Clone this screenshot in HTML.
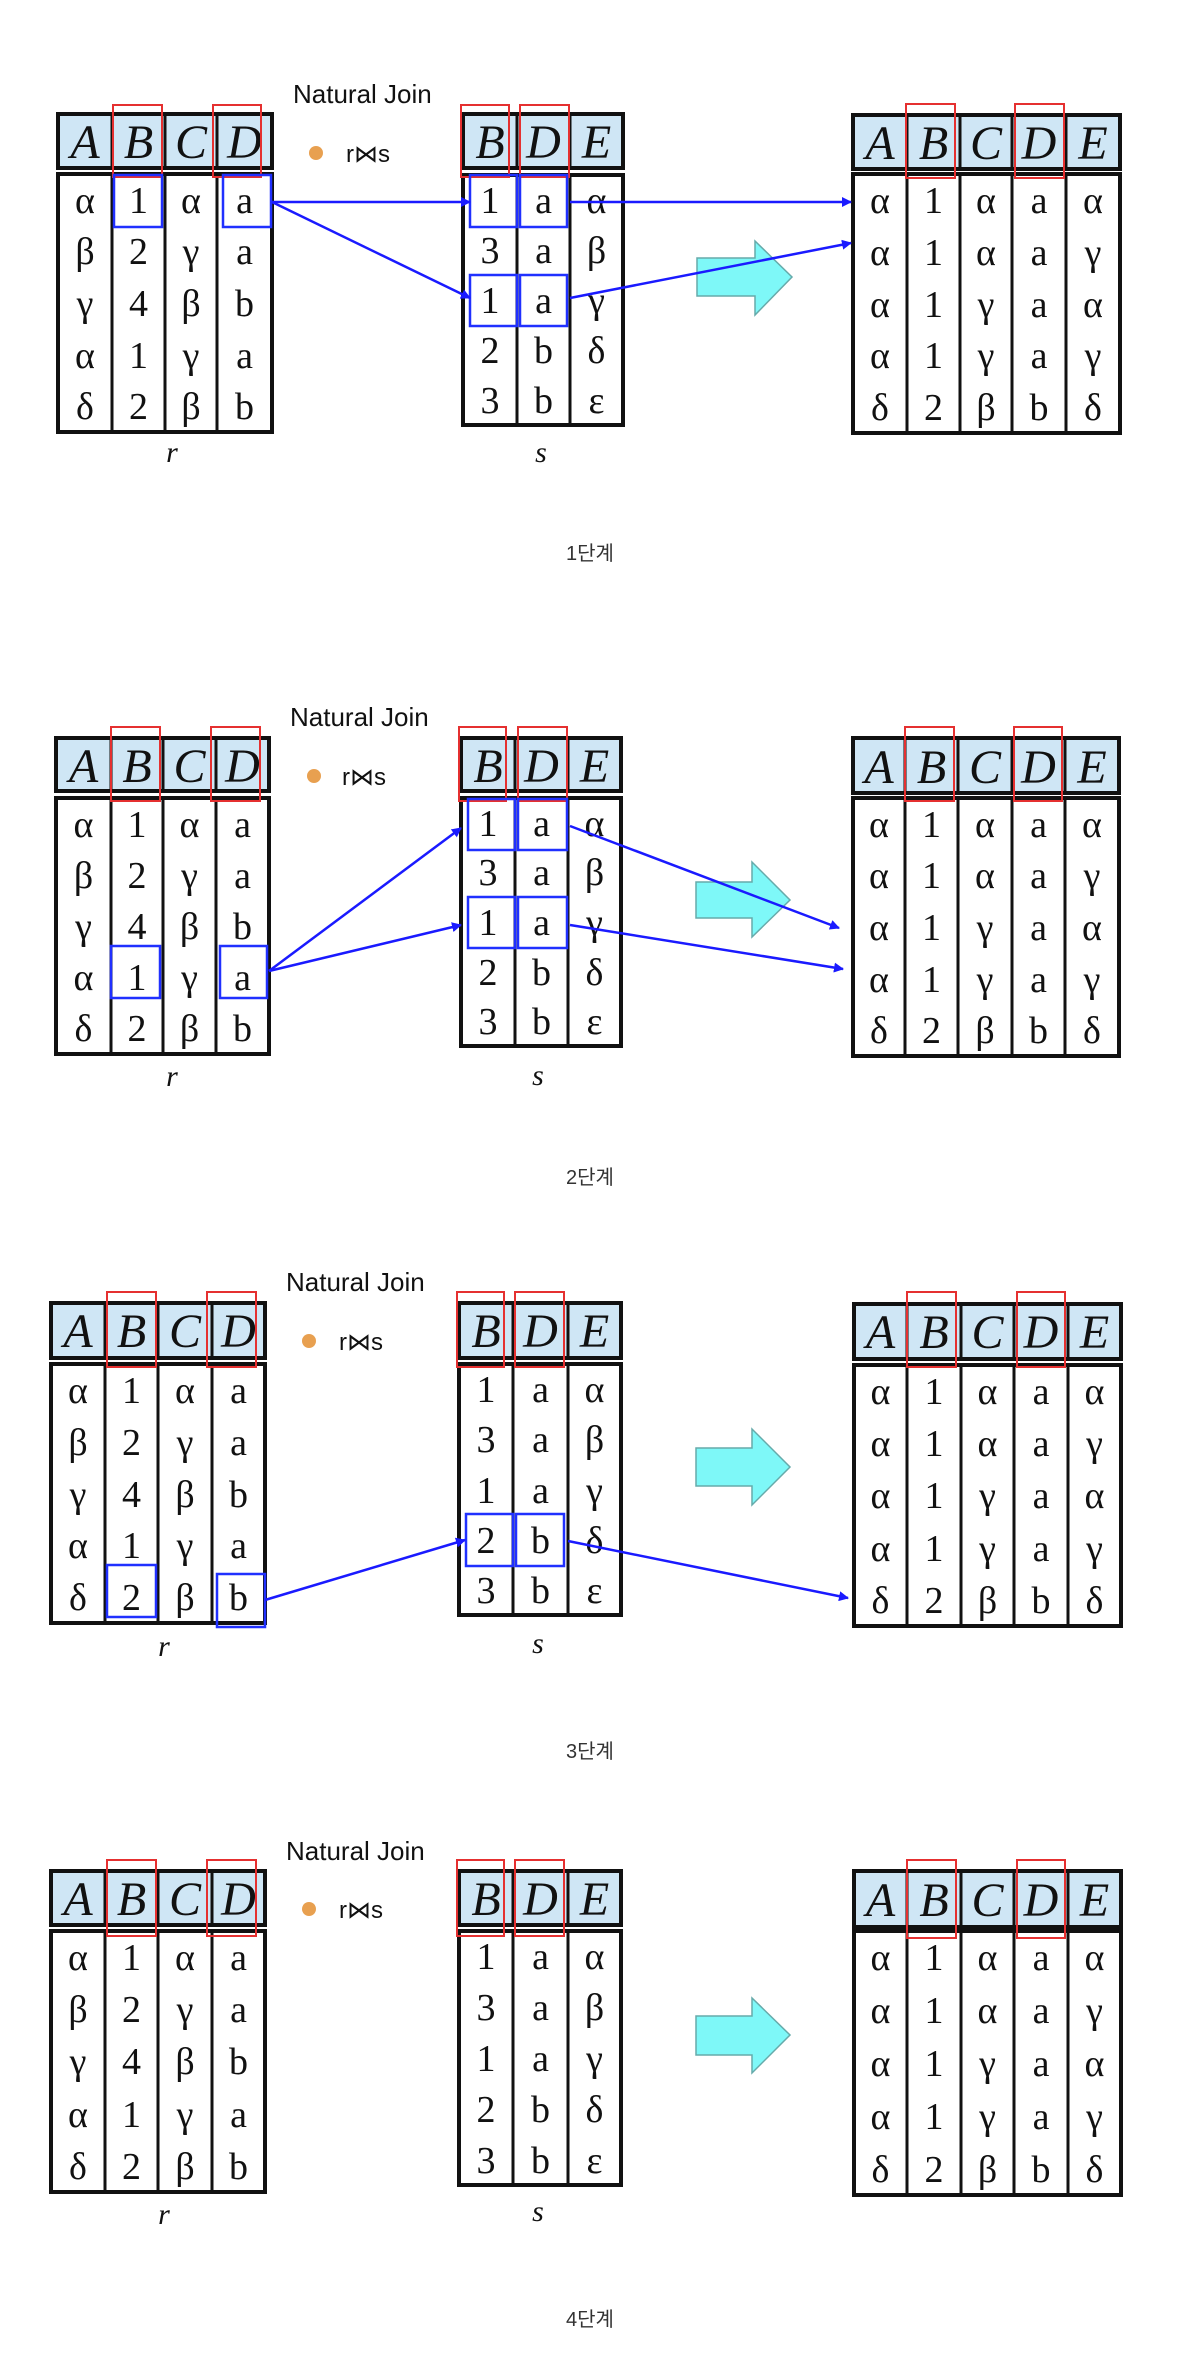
<!DOCTYPE html>
<html><head><meta charset="utf-8"><style>
html,body{margin:0;padding:0;background:#fff;}
svg{display:block;}
.h{font-family:"Liberation Serif",serif;font-style:italic;font-size:48px;text-anchor:middle;fill:#111;}
.c{font-family:"Liberation Serif",serif;font-size:38px;text-anchor:middle;fill:#111;}
.lb{font-family:"Liberation Serif",serif;font-style:italic;font-size:30px;text-anchor:middle;fill:#111;}
.nj{font-family:"Liberation Sans",sans-serif;font-size:26px;fill:#111;}
.rs{font-family:"Liberation Sans","DejaVu Sans",sans-serif;font-size:24px;fill:#111;}
.st{font-family:"Liberation Sans","Noto Sans CJK KR",sans-serif;font-size:20px;text-anchor:middle;fill:#333;}
.hd{fill:#cfe6f5;stroke:#111;stroke-width:4;}
.bd{fill:#fff;stroke:#111;stroke-width:4;}
.ln{stroke:#111;stroke-width:3;}
.red{fill:none;stroke:#e53030;stroke-width:2;}
.blu{fill:none;stroke:#2030ff;stroke-width:2.5;}
.ar{stroke:#1a1aff;stroke-width:2.5;fill:none;marker-end:url(#ah);}
.cy{fill:#7ef8f8;stroke:#6aa;stroke-width:1.5;}
</style></head><body>
<svg width="1180" height="2360" viewBox="0 0 1180 2360" xmlns="http://www.w3.org/2000/svg">
<defs><marker id="ah" markerWidth="10" markerHeight="10" refX="9" refY="5" orient="auto" markerUnits="userSpaceOnUse" viewBox="0 0 10 10"><path d="M0,0 L10,5 L0,10 z" fill="#1a1aff"/></marker></defs>

<!-- ================= PANEL 1 ================= -->
<text class="nj" x="293" y="103">Natural Join</text>
<circle cx="316" cy="153" r="7" fill="#e8a050"/>
<text class="rs" x="346" y="162">r⋈s</text>
<!-- r -->
<rect class="hd" x="58" y="114" width="214" height="54"/>
<path class="ln" d="M112 114V168M165 114V168M217 114V168"/>
<rect class="bd" x="58" y="174" width="214" height="258"/>
<path class="ln" d="M112 174V432M165 174V432M217 174V432"/>
<text class="h" y="158"><tspan x="85">A</tspan><tspan x="138.5">B</tspan><tspan x="191">C</tspan><tspan x="244.5">D</tspan></text>
<text class="c" y="213"><tspan x="85">α</tspan><tspan x="138.5">1</tspan><tspan x="191">α</tspan><tspan x="244.5">a</tspan></text>
<text class="c" y="264"><tspan x="85">β</tspan><tspan x="138.5">2</tspan><tspan x="191">γ</tspan><tspan x="244.5">a</tspan></text>
<text class="c" y="316"><tspan x="85">γ</tspan><tspan x="138.5">4</tspan><tspan x="191">β</tspan><tspan x="244.5">b</tspan></text>
<text class="c" y="368"><tspan x="85">α</tspan><tspan x="138.5">1</tspan><tspan x="191">γ</tspan><tspan x="244.5">a</tspan></text>
<text class="c" y="419"><tspan x="85">δ</tspan><tspan x="138.5">2</tspan><tspan x="191">β</tspan><tspan x="244.5">b</tspan></text>
<text class="lb" x="172" y="462">r</text>
<!-- s -->
<rect class="hd" x="463" y="114" width="160" height="54"/>
<path class="ln" d="M517 114V168M570 114V168"/>
<rect class="bd" x="463" y="175" width="160" height="250"/>
<path class="ln" d="M517 175V425M570 175V425"/>
<text class="h" y="158"><tspan x="490">B</tspan><tspan x="543.5">D</tspan><tspan x="596.5">E</tspan></text>
<text class="c" y="213"><tspan x="490">1</tspan><tspan x="543.5">a</tspan><tspan x="596.5">α</tspan></text>
<text class="c" y="263"><tspan x="490">3</tspan><tspan x="543.5">a</tspan><tspan x="596.5">β</tspan></text>
<text class="c" y="313"><tspan x="490">1</tspan><tspan x="543.5">a</tspan><tspan x="596.5">γ</tspan></text>
<text class="c" y="363"><tspan x="490">2</tspan><tspan x="543.5">b</tspan><tspan x="596.5">δ</tspan></text>
<text class="c" y="413"><tspan x="490">3</tspan><tspan x="543.5">b</tspan><tspan x="596.5">ε</tspan></text>
<text class="lb" x="541" y="462">s</text>
<!-- result -->
<rect class="hd" x="853" y="115" width="267" height="54"/>
<path class="ln" d="M907 115V169M960 115V169M1012 115V169M1066 115V169"/>
<rect class="bd" x="853" y="174" width="267" height="259"/>
<path class="ln" d="M907 174V433M960 174V433M1012 174V433M1066 174V433"/>
<text class="h" y="159"><tspan x="880">A</tspan><tspan x="933.5">B</tspan><tspan x="986">C</tspan><tspan x="1039">D</tspan><tspan x="1093">E</tspan></text>
<text class="c" y="213"><tspan x="880">α</tspan><tspan x="933.5">1</tspan><tspan x="986">α</tspan><tspan x="1039">a</tspan><tspan x="1093">α</tspan></text>
<text class="c" y="265"><tspan x="880">α</tspan><tspan x="933.5">1</tspan><tspan x="986">α</tspan><tspan x="1039">a</tspan><tspan x="1093">γ</tspan></text>
<text class="c" y="317"><tspan x="880">α</tspan><tspan x="933.5">1</tspan><tspan x="986">γ</tspan><tspan x="1039">a</tspan><tspan x="1093">α</tspan></text>
<text class="c" y="368"><tspan x="880">α</tspan><tspan x="933.5">1</tspan><tspan x="986">γ</tspan><tspan x="1039">a</tspan><tspan x="1093">γ</tspan></text>
<text class="c" y="420"><tspan x="880">δ</tspan><tspan x="933.5">2</tspan><tspan x="986">β</tspan><tspan x="1039">b</tspan><tspan x="1093">δ</tspan></text>
<!-- highlights -->
<rect class="red" x="113" y="105" width="49" height="72"/><rect class="red" x="213" y="105" width="48" height="72"/>
<rect class="red" x="461" y="105" width="48" height="72"/><rect class="red" x="520" y="105" width="49" height="72"/>
<rect class="red" x="906" y="104" width="49" height="74"/><rect class="red" x="1015" y="104" width="49" height="74"/>
<rect class="blu" x="114" y="175" width="48" height="52"/><rect class="blu" x="223" y="175" width="48" height="52"/>
<rect class="blu" x="470" y="175" width="47" height="52"/><rect class="blu" x="520" y="175" width="47" height="52"/>
<rect class="blu" x="470" y="275" width="47" height="51"/><rect class="blu" x="520" y="275" width="47" height="51"/>
<polygon class="cy" points="697,258 755,258 755,241 792,277 755,315 755,296 697,296"/>
<path class="ar" d="M272 202L470 202"/><path class="ar" d="M272 202L470 298"/>
<path class="ar" d="M570 202L851 202"/><path class="ar" d="M570 298L851 243"/>
<text class="st" x="590" y="560">1단계</text>

<!-- ================= PANEL 2 ================= -->
<text class="nj" x="290" y="726">Natural Join</text>
<circle cx="314" cy="776" r="7" fill="#e8a050"/>
<text class="rs" x="342" y="785">r⋈s</text>
<rect class="hd" x="56" y="738" width="213" height="53"/>
<path class="ln" d="M111 738V791M163 738V791M216 738V791"/>
<rect class="bd" x="56" y="798" width="213" height="256"/>
<path class="ln" d="M111 798V1054M163 798V1054M216 798V1054"/>
<text class="h" y="782"><tspan x="83.5">A</tspan><tspan x="137">B</tspan><tspan x="189.5">C</tspan><tspan x="242.5">D</tspan></text>
<text class="c" y="837"><tspan x="83.5">α</tspan><tspan x="137">1</tspan><tspan x="189.5">α</tspan><tspan x="242.5">a</tspan></text>
<text class="c" y="888"><tspan x="83.5">β</tspan><tspan x="137">2</tspan><tspan x="189.5">γ</tspan><tspan x="242.5">a</tspan></text>
<text class="c" y="939"><tspan x="83.5">γ</tspan><tspan x="137">4</tspan><tspan x="189.5">β</tspan><tspan x="242.5">b</tspan></text>
<text class="c" y="990"><tspan x="83.5">α</tspan><tspan x="137">1</tspan><tspan x="189.5">γ</tspan><tspan x="242.5">a</tspan></text>
<text class="c" y="1041"><tspan x="83.5">δ</tspan><tspan x="137">2</tspan><tspan x="189.5">β</tspan><tspan x="242.5">b</tspan></text>
<text class="lb" x="172" y="1086">r</text>
<rect class="hd" x="461" y="738" width="160" height="53"/>
<path class="ln" d="M515 738V791M568 738V791"/>
<rect class="bd" x="461" y="798" width="160" height="248"/>
<path class="ln" d="M515 798V1046M568 798V1046"/>
<text class="h" y="782"><tspan x="488">B</tspan><tspan x="541.5">D</tspan><tspan x="594.5">E</tspan></text>
<text class="c" y="836"><tspan x="488">1</tspan><tspan x="541.5">a</tspan><tspan x="594.5">α</tspan></text>
<text class="c" y="885"><tspan x="488">3</tspan><tspan x="541.5">a</tspan><tspan x="594.5">β</tspan></text>
<text class="c" y="935"><tspan x="488">1</tspan><tspan x="541.5">a</tspan><tspan x="594.5">γ</tspan></text>
<text class="c" y="985"><tspan x="488">2</tspan><tspan x="541.5">b</tspan><tspan x="594.5">δ</tspan></text>
<text class="c" y="1034"><tspan x="488">3</tspan><tspan x="541.5">b</tspan><tspan x="594.5">ε</tspan></text>
<text class="lb" x="538" y="1085">s</text>
<rect class="hd" x="853" y="738" width="266" height="55"/>
<path class="ln" d="M905 738V793M958 738V793M1012 738V793M1065 738V793"/>
<rect class="bd" x="853" y="798" width="266" height="258"/>
<path class="ln" d="M905 798V1056M958 798V1056M1012 798V1056M1065 798V1056"/>
<text class="h" y="783"><tspan x="879">A</tspan><tspan x="931.5">B</tspan><tspan x="985">C</tspan><tspan x="1038.5">D</tspan><tspan x="1092">E</tspan></text>
<text class="c" y="837"><tspan x="879">α</tspan><tspan x="931.5">1</tspan><tspan x="985">α</tspan><tspan x="1038.5">a</tspan><tspan x="1092">α</tspan></text>
<text class="c" y="888"><tspan x="879">α</tspan><tspan x="931.5">1</tspan><tspan x="985">α</tspan><tspan x="1038.5">a</tspan><tspan x="1092">γ</tspan></text>
<text class="c" y="940"><tspan x="879">α</tspan><tspan x="931.5">1</tspan><tspan x="985">γ</tspan><tspan x="1038.5">a</tspan><tspan x="1092">α</tspan></text>
<text class="c" y="992"><tspan x="879">α</tspan><tspan x="931.5">1</tspan><tspan x="985">γ</tspan><tspan x="1038.5">a</tspan><tspan x="1092">γ</tspan></text>
<text class="c" y="1043"><tspan x="879">δ</tspan><tspan x="931.5">2</tspan><tspan x="985">β</tspan><tspan x="1038.5">b</tspan><tspan x="1092">δ</tspan></text>
<rect class="red" x="111" y="727" width="49" height="74"/><rect class="red" x="211" y="727" width="49" height="74"/>
<rect class="red" x="459" y="727" width="47" height="74"/><rect class="red" x="518" y="727" width="49" height="74"/>
<rect class="red" x="905" y="727" width="49" height="74"/><rect class="red" x="1014" y="727" width="48" height="74"/>
<rect class="blu" x="111" y="946" width="49" height="52"/><rect class="blu" x="220" y="946" width="47" height="52"/>
<rect class="blu" x="468" y="799" width="47" height="51"/><rect class="blu" x="518" y="799" width="49" height="51"/>
<rect class="blu" x="468" y="897" width="47" height="51"/><rect class="blu" x="518" y="897" width="49" height="51"/>
<polygon class="cy" points="696,882 752,882 752,862 790,900 752,937 752,918 696,918"/>
<path class="ar" d="M269 971L461 828"/><path class="ar" d="M269 971L461 925"/>
<path class="ar" d="M570 826L839 928"/><path class="ar" d="M570 925L843 969"/>
<text class="st" x="590" y="1184">2단계</text>

<!-- ================= PANEL 3 ================= -->
<text class="nj" x="286" y="1291">Natural Join</text>
<circle cx="309" cy="1341" r="7" fill="#e8a050"/>
<text class="rs" x="339" y="1350">r⋈s</text>
<rect class="hd" x="51" y="1303" width="214" height="55"/>
<path class="ln" d="M105 1303V1358M158 1303V1358M212 1303V1358"/>
<rect class="bd" x="51" y="1364" width="214" height="259"/>
<path class="ln" d="M105 1364V1623M158 1364V1623M212 1364V1623"/>
<text class="h" y="1347"><tspan x="78">A</tspan><tspan x="131.5">B</tspan><tspan x="185">C</tspan><tspan x="238.5">D</tspan></text>
<text class="c" y="1403"><tspan x="78">α</tspan><tspan x="131.5">1</tspan><tspan x="185">α</tspan><tspan x="238.5">a</tspan></text>
<text class="c" y="1455"><tspan x="78">β</tspan><tspan x="131.5">2</tspan><tspan x="185">γ</tspan><tspan x="238.5">a</tspan></text>
<text class="c" y="1507"><tspan x="78">γ</tspan><tspan x="131.5">4</tspan><tspan x="185">β</tspan><tspan x="238.5">b</tspan></text>
<text class="c" y="1558"><tspan x="78">α</tspan><tspan x="131.5">1</tspan><tspan x="185">γ</tspan><tspan x="238.5">a</tspan></text>
<text class="c" y="1610"><tspan x="78">δ</tspan><tspan x="131.5">2</tspan><tspan x="185">β</tspan><tspan x="238.5">b</tspan></text>
<text class="lb" x="164" y="1656">r</text>
<rect class="hd" x="459" y="1303" width="162" height="55"/>
<path class="ln" d="M513 1303V1358M568 1303V1358"/>
<rect class="bd" x="459" y="1364" width="162" height="251"/>
<path class="ln" d="M513 1364V1615M568 1364V1615"/>
<text class="h" y="1347"><tspan x="486">B</tspan><tspan x="540.5">D</tspan><tspan x="594.5">E</tspan></text>
<text class="c" y="1402"><tspan x="486">1</tspan><tspan x="540.5">a</tspan><tspan x="594.5">α</tspan></text>
<text class="c" y="1452"><tspan x="486">3</tspan><tspan x="540.5">a</tspan><tspan x="594.5">β</tspan></text>
<text class="c" y="1503"><tspan x="486">1</tspan><tspan x="540.5">a</tspan><tspan x="594.5">γ</tspan></text>
<text class="c" y="1553"><tspan x="486">2</tspan><tspan x="540.5">b</tspan><tspan x="594.5">δ</tspan></text>
<text class="c" y="1603"><tspan x="486">3</tspan><tspan x="540.5">b</tspan><tspan x="594.5">ε</tspan></text>
<text class="lb" x="538" y="1653">s</text>
<rect class="hd" x="854" y="1304" width="267" height="55"/>
<path class="ln" d="M907 1304V1359M961 1304V1359M1014 1304V1359M1068 1304V1359"/>
<rect class="bd" x="854" y="1365" width="267" height="261"/>
<path class="ln" d="M907 1365V1626M961 1365V1626M1014 1365V1626M1068 1365V1626"/>
<text class="h" y="1348"><tspan x="880.5">A</tspan><tspan x="934">B</tspan><tspan x="987.5">C</tspan><tspan x="1041">D</tspan><tspan x="1094.5">E</tspan></text>
<text class="c" y="1404"><tspan x="880.5">α</tspan><tspan x="934">1</tspan><tspan x="987.5">α</tspan><tspan x="1041">a</tspan><tspan x="1094.5">α</tspan></text>
<text class="c" y="1456"><tspan x="880.5">α</tspan><tspan x="934">1</tspan><tspan x="987.5">α</tspan><tspan x="1041">a</tspan><tspan x="1094.5">γ</tspan></text>
<text class="c" y="1508"><tspan x="880.5">α</tspan><tspan x="934">1</tspan><tspan x="987.5">γ</tspan><tspan x="1041">a</tspan><tspan x="1094.5">α</tspan></text>
<text class="c" y="1561"><tspan x="880.5">α</tspan><tspan x="934">1</tspan><tspan x="987.5">γ</tspan><tspan x="1041">a</tspan><tspan x="1094.5">γ</tspan></text>
<text class="c" y="1613"><tspan x="880.5">δ</tspan><tspan x="934">2</tspan><tspan x="987.5">β</tspan><tspan x="1041">b</tspan><tspan x="1094.5">δ</tspan></text>
<rect class="red" x="107" y="1292" width="49" height="75"/><rect class="red" x="207" y="1292" width="49" height="75"/>
<rect class="red" x="457" y="1292" width="47" height="75"/><rect class="red" x="515" y="1292" width="49" height="75"/>
<rect class="red" x="907" y="1292" width="49" height="75"/><rect class="red" x="1017" y="1292" width="48" height="75"/>
<rect class="blu" x="107" y="1565" width="49" height="52"/><rect class="blu" x="217" y="1574" width="48" height="53"/>
<rect class="blu" x="466" y="1514" width="47" height="52"/><rect class="blu" x="516" y="1514" width="48" height="52"/>
<polygon class="cy" points="696,1448 752,1448 752,1429 790,1467 752,1505 752,1486 696,1486"/>
<path class="ar" d="M265 1600L465 1540"/><path class="ar" d="M568 1541L848 1598"/>
<text class="st" x="590" y="1758">3단계</text>

<!-- ================= PANEL 4 ================= -->
<text class="nj" x="286" y="1860">Natural Join</text>
<circle cx="309" cy="1909" r="7" fill="#e8a050"/>
<text class="rs" x="339" y="1918">r⋈s</text>
<rect class="hd" x="51" y="1871" width="214" height="54"/>
<path class="ln" d="M105 1871V1925M158 1871V1925M212 1871V1925"/>
<rect class="bd" x="51" y="1931" width="214" height="261"/>
<path class="ln" d="M105 1931V2192M158 1931V2192M212 1931V2192"/>
<text class="h" y="1915"><tspan x="78">A</tspan><tspan x="131.5">B</tspan><tspan x="185">C</tspan><tspan x="238.5">D</tspan></text>
<text class="c" y="1970"><tspan x="78">α</tspan><tspan x="131.5">1</tspan><tspan x="185">α</tspan><tspan x="238.5">a</tspan></text>
<text class="c" y="2022"><tspan x="78">β</tspan><tspan x="131.5">2</tspan><tspan x="185">γ</tspan><tspan x="238.5">a</tspan></text>
<text class="c" y="2074"><tspan x="78">γ</tspan><tspan x="131.5">4</tspan><tspan x="185">β</tspan><tspan x="238.5">b</tspan></text>
<text class="c" y="2127"><tspan x="78">α</tspan><tspan x="131.5">1</tspan><tspan x="185">γ</tspan><tspan x="238.5">a</tspan></text>
<text class="c" y="2179"><tspan x="78">δ</tspan><tspan x="131.5">2</tspan><tspan x="185">β</tspan><tspan x="238.5">b</tspan></text>
<text class="lb" x="164" y="2224">r</text>
<rect class="hd" x="459" y="1871" width="162" height="54"/>
<path class="ln" d="M513 1871V1925M568 1871V1925"/>
<rect class="bd" x="459" y="1931" width="162" height="254"/>
<path class="ln" d="M513 1931V2185M568 1931V2185"/>
<text class="h" y="1915"><tspan x="486">B</tspan><tspan x="540.5">D</tspan><tspan x="594.5">E</tspan></text>
<text class="c" y="1969"><tspan x="486">1</tspan><tspan x="540.5">a</tspan><tspan x="594.5">α</tspan></text>
<text class="c" y="2020"><tspan x="486">3</tspan><tspan x="540.5">a</tspan><tspan x="594.5">β</tspan></text>
<text class="c" y="2071"><tspan x="486">1</tspan><tspan x="540.5">a</tspan><tspan x="594.5">γ</tspan></text>
<text class="c" y="2122"><tspan x="486">2</tspan><tspan x="540.5">b</tspan><tspan x="594.5">δ</tspan></text>
<text class="c" y="2173"><tspan x="486">3</tspan><tspan x="540.5">b</tspan><tspan x="594.5">ε</tspan></text>
<text class="lb" x="538" y="2221">s</text>
<rect class="hd" x="854" y="1871" width="267" height="56"/>
<path class="ln" d="M907 1871V1927M961 1871V1927M1014 1871V1927M1068 1871V1927"/>
<rect class="bd" x="854" y="1931" width="267" height="264"/>
<path class="ln" d="M907 1931V2195M961 1931V2195M1014 1931V2195M1068 1931V2195"/>
<text class="h" y="1916"><tspan x="880.5">A</tspan><tspan x="934">B</tspan><tspan x="987.5">C</tspan><tspan x="1041">D</tspan><tspan x="1094.5">E</tspan></text>
<text class="c" y="1970"><tspan x="880.5">α</tspan><tspan x="934">1</tspan><tspan x="987.5">α</tspan><tspan x="1041">a</tspan><tspan x="1094.5">α</tspan></text>
<text class="c" y="2023"><tspan x="880.5">α</tspan><tspan x="934">1</tspan><tspan x="987.5">α</tspan><tspan x="1041">a</tspan><tspan x="1094.5">γ</tspan></text>
<text class="c" y="2076"><tspan x="880.5">α</tspan><tspan x="934">1</tspan><tspan x="987.5">γ</tspan><tspan x="1041">a</tspan><tspan x="1094.5">α</tspan></text>
<text class="c" y="2129"><tspan x="880.5">α</tspan><tspan x="934">1</tspan><tspan x="987.5">γ</tspan><tspan x="1041">a</tspan><tspan x="1094.5">γ</tspan></text>
<text class="c" y="2182"><tspan x="880.5">δ</tspan><tspan x="934">2</tspan><tspan x="987.5">β</tspan><tspan x="1041">b</tspan><tspan x="1094.5">δ</tspan></text>
<rect class="red" x="107" y="1860" width="49" height="76"/><rect class="red" x="207" y="1860" width="49" height="76"/>
<rect class="red" x="457" y="1860" width="47" height="76"/><rect class="red" x="515" y="1860" width="49" height="76"/>
<rect class="red" x="907" y="1860" width="49" height="78"/><rect class="red" x="1017" y="1860" width="48" height="78"/>
<polygon class="cy" points="696,2016 752,2016 752,1998 790,2035 752,2073 752,2055 696,2055"/>
<text class="st" x="590" y="2326">4단계</text>
</svg>
</body></html>
